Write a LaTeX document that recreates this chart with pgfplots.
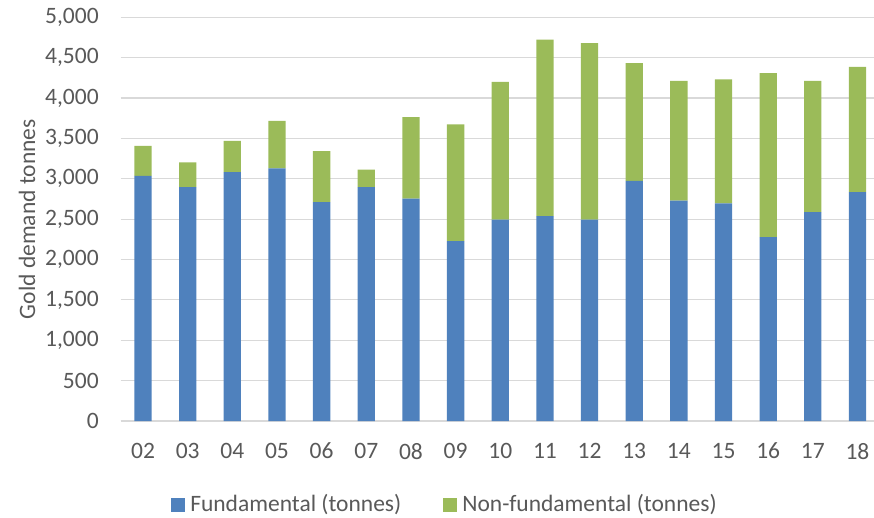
\documentclass[border=0pt]{standalone}
\usepackage{pgfplots}
\pgfplotsset{compat=1.18}
\usepackage{fontspec}
\setmainfont{Carlito}
\definecolor{fund}{HTML}{4F81BD}
\definecolor{nonfund}{HTML}{9BBB59}
\definecolor{txt}{HTML}{595959}
\definecolor{gridc}{HTML}{D9D9D9}
\newcommand{\fs}{\fontsize{23.5}{28}\selectfont}
\begin{document}
\fs
\begin{tikzpicture}
\useasboundingbox (-120.7pt,-96pt) rectangle (753.3pt,421pt);
\begin{axis}[
  scale only axis,
  width=753.3pt, height=403.7pt,
  ybar stacked, bar width=17.3pt,
  xmin=-0.5, xmax=16.37,
  ymin=0, ymax=5000,
  ytick={0,500,...,5000},
  xtick={0,...,16},
  xticklabels={02,03,04,05,06,07,08,09,10,11,12,13,14,15,16,17,18},
  /pgf/number format/assume math mode=true,
  yticklabel style={/pgf/number format/fixed,/pgf/number format/1000 sep={,}, text=txt, font=\fs},
  xticklabel style={text=txt, font=\fs},
  xmajorgrids=false, ymajorgrids=true,
  grid style={draw=gridc, line width=1.2pt},
  axis y line*=left, axis x line*=bottom,
  y axis line style={draw=none},
  x axis line style={draw=gridc, line width=1.2pt},
  tick style={draw=none},
  major tick length=0pt,
  yticklabel shift=14pt, xticklabel shift=14pt,
  ylabel={Gold demand tonnes}, ylabel style={text=txt, font=\fs},
  ylabel shift=-6pt,
  legend columns=2,
  legend style={at={(0.4305,-0.208)}, anchor=center, draw=none, text=txt,
    font=\fs, /tikz/every even column/.append style={column sep=40pt},
    /tikz/every odd column/.append style={column sep=3pt}},
  legend image code/.code={\fill[#1] (0pt,-7pt) rectangle (14pt,7pt);},
]
\addplot[fill=fund, draw=none] coordinates {
(0,3037) (1,2897) (2,3083) (3,3128) (4,2711) (5,2897) (6,2753) (7,2228) (8,2493)
(9,2538) (10,2493) (11,2975) (12,2728) (13,2695) (14,2278) (15,2587) (16,2835)};
\addplot[fill=nonfund, draw=none] coordinates {
(0,371) (1,306) (2,388) (3,590) (4,632) (5,215) (6,1011) (7,1445) (8,1708)
(9,2187) (10,2187) (11,1457) (12,1485) (13,1535) (14,2030) (15,1626) (16,1552)};
\legend{Fundamental (tonnes), Non-fundamental (tonnes)}
\end{axis}
\end{tikzpicture}
\end{document}
